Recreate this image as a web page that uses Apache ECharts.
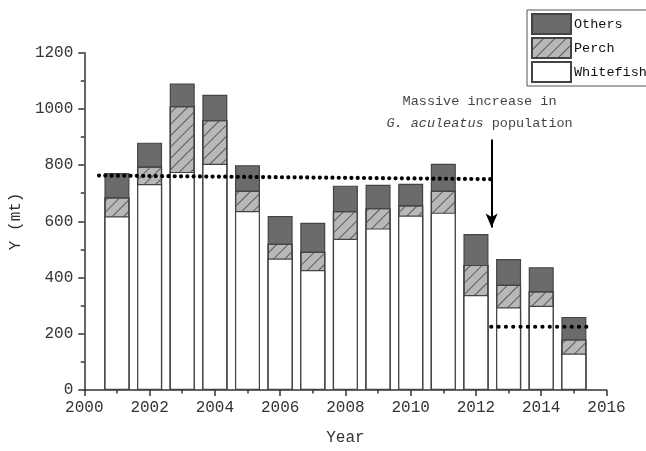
<!DOCTYPE html>
<html>
<head>
<meta charset="utf-8">
<script src="https://cdn.jsdelivr.net/npm/echarts@6/dist/echarts.min.js"></script>
<style>
  html, body { margin: 0; padding: 0; background: #fff; }
  #chart { width: 646px; height: 451px; }
</style>
</head>
<body>
<div id="chart"></div>
<script>
// Annual catch by species group (metric tonnes)
const years     = [2001, 2002, 2003, 2004, 2005, 2006, 2007, 2008, 2009, 2010, 2011, 2012, 2013, 2014, 2015];
const whitefish = [618, 733, 776, 805, 637, 468, 427, 538, 575, 621, 631, 338, 294, 300, 130];
const perch     = [68, 62, 234, 155, 72, 52, 65, 99, 72, 36, 78, 107, 80, 51, 50];
const others    = [86, 85, 80, 90, 91, 99, 103, 90, 83, 77, 96, 110, 92, 86, 80];

// Mean level before and after the stickleback increase
const levelBefore = [[2000.45, 763], [2012.48, 750]];
const levelAfter  = [[2012.47, 225], [2015.45, 225]];
// Arrow marking the onset of the increase
const arrowFrom = [2012.48, 891];
const arrowTo   = [2012.48, 578];
const notePoint = [2012.11, 987];

const xTicks = { min: 2000, max: 2016, step: 2 };
const yTicks = { min: 0, max: 1200, step: 200 };

const FONT = '"Liberation Mono", "DejaVu Sans Mono", monospace';
const INK = '#333';

// Stacked segments: each layer is drawn from zero up to its cumulative top,
// back to front, so the visible part of every layer is its own segment.
const topWhitefish = years.map((y, i) => [y, whitefish[i]]);
const topPerch     = years.map((y, i) => [y, whitefish[i] + perch[i]]);
const topOthers    = years.map((y, i) => [y, whitefish[i] + perch[i] + others[i]]);

const barBase = {
  type: 'bar',
  barWidth: 25,
  barGap: '-100%',
};

const chart = echarts.init(document.getElementById('chart'), null, { renderer: 'canvas' });

chart.setOption({
  animation: false,
  backgroundColor: '#fff',
  textStyle: { fontFamily: FONT },
  grid: { left: 81.7, right: 39.5, top: 52.7, bottom: 58.3 },
  legend: {
    orient: 'vertical',
    left: 527,
    top: 10,
    padding: [3, 40, 3, 4],
    itemWidth: 39,
    itemHeight: 20,
    itemGap: 2,
    icon: 'rect',
    borderColor: '#555',
    borderWidth: 1,
    data: ['Others', 'Perch', 'Whitefish'],
    textStyle: { fontFamily: FONT, fontSize: 13.5, color: '#111', padding: [0, 0, 0, -2] }
  },
  xAxis: {
    type: 'value',
    min: xTicks.min,
    max: xTicks.max,
    interval: xTicks.step,
    name: 'Year',
    nameLocation: 'middle',
    nameGap: 40,
    nameTextStyle: { fontFamily: FONT, fontSize: 16, color: INK },
    axisLine: { show: true, lineStyle: { color: INK, width: 1.5 } },
    axisTick: { show: true, length: 6, lineStyle: { color: INK, width: 1.5 } },
    minorTick: { show: true, splitNumber: 2, length: 3.5, lineStyle: { color: INK, width: 1.5 } },
    splitLine: { show: false },
    axisLabel: { fontFamily: FONT, fontSize: 16, color: INK, margin: 10,
                 formatter: (v) => String(v) }
  },
  yAxis: {
    type: 'value',
    min: yTicks.min,
    max: yTicks.max,
    interval: yTicks.step,
    name: 'Y (mt)',
    nameLocation: 'middle',
    nameGap: 56,
    nameTextStyle: { fontFamily: FONT, fontSize: 16, color: INK },
    axisLine: { show: true, lineStyle: { color: INK, width: 1.5 } },
    axisTick: { show: true, length: 6, lineStyle: { color: INK, width: 1.5 } },
    minorTick: { show: true, splitNumber: 2, length: 3.5, lineStyle: { color: INK, width: 1.5 } },
    splitLine: { show: false },
    axisLabel: { fontFamily: FONT, fontSize: 16, color: INK, margin: 11,
                 formatter: (v) => String(v) }
  },
  series: [
    Object.assign({}, barBase, {
      name: 'Others',
      data: topOthers,
      z: 2,
      itemStyle: { color: '#6b6b6b', borderColor: '#444', borderWidth: 1.2 }
    }),
    Object.assign({}, barBase, {
      name: 'Perch',
      data: topPerch,
      z: 3,
      itemStyle: {
        color: '#b8b8b8', borderColor: '#444', borderWidth: 1.2,
        decal: {
          symbol: 'rect',
          color: '#5a5a5a',
          dashArrayX: [1, 0],
          dashArrayY: [1, 7],
          rotation: -Math.PI / 4
        }
      }
    }),
    Object.assign({}, barBase, {
      name: 'Whitefish',
      data: topWhitefish,
      z: 4,
      itemStyle: { color: '#ffffff', borderColor: '#444', borderWidth: 1.2 }
    }),
    {
      type: 'line',
      name: 'level-before',
      data: levelBefore,
      symbol: 'none',
      silent: true,
      lineStyle: { color: '#000', width: 4.2, type: [0.01, 6.3], cap: 'round' },
      z: 6
    },
    {
      type: 'line',
      name: 'level-after',
      data: levelAfter,
      symbol: 'none',
      silent: true,
      lineStyle: { color: '#000', width: 4.2, type: [0.01, 7.3], cap: 'round' },
      z: 6,
      markLine: {
        silent: true,
        symbol: ['none', 'arrow'],
        symbolSize: [9, 14],
        label: { show: false },
        lineStyle: { color: '#000', width: 2, type: 'solid' },
        data: [[{ coord: arrowFrom }, { coord: arrowTo }]]
      }
    },
    {
      type: 'scatter',
      name: 'note',
      data: [notePoint],
      symbolSize: 0,
      silent: true,
      z: 7,
      label: {
        show: true,
        position: 'inside',
        align: 'center',
        verticalAlign: 'middle',
        formatter: 'Massive increase in\n{it|G. aculeatus} population',
        fontFamily: FONT,
        fontSize: 13.5,
        lineHeight: 22,
        color: '#111',
        rich: {
          it: { fontFamily: FONT, fontStyle: 'italic', fontSize: 13.5, color: '#111', lineHeight: 22 }
        }
      }
    }
  ]
});
</script>
</body>
</html>
